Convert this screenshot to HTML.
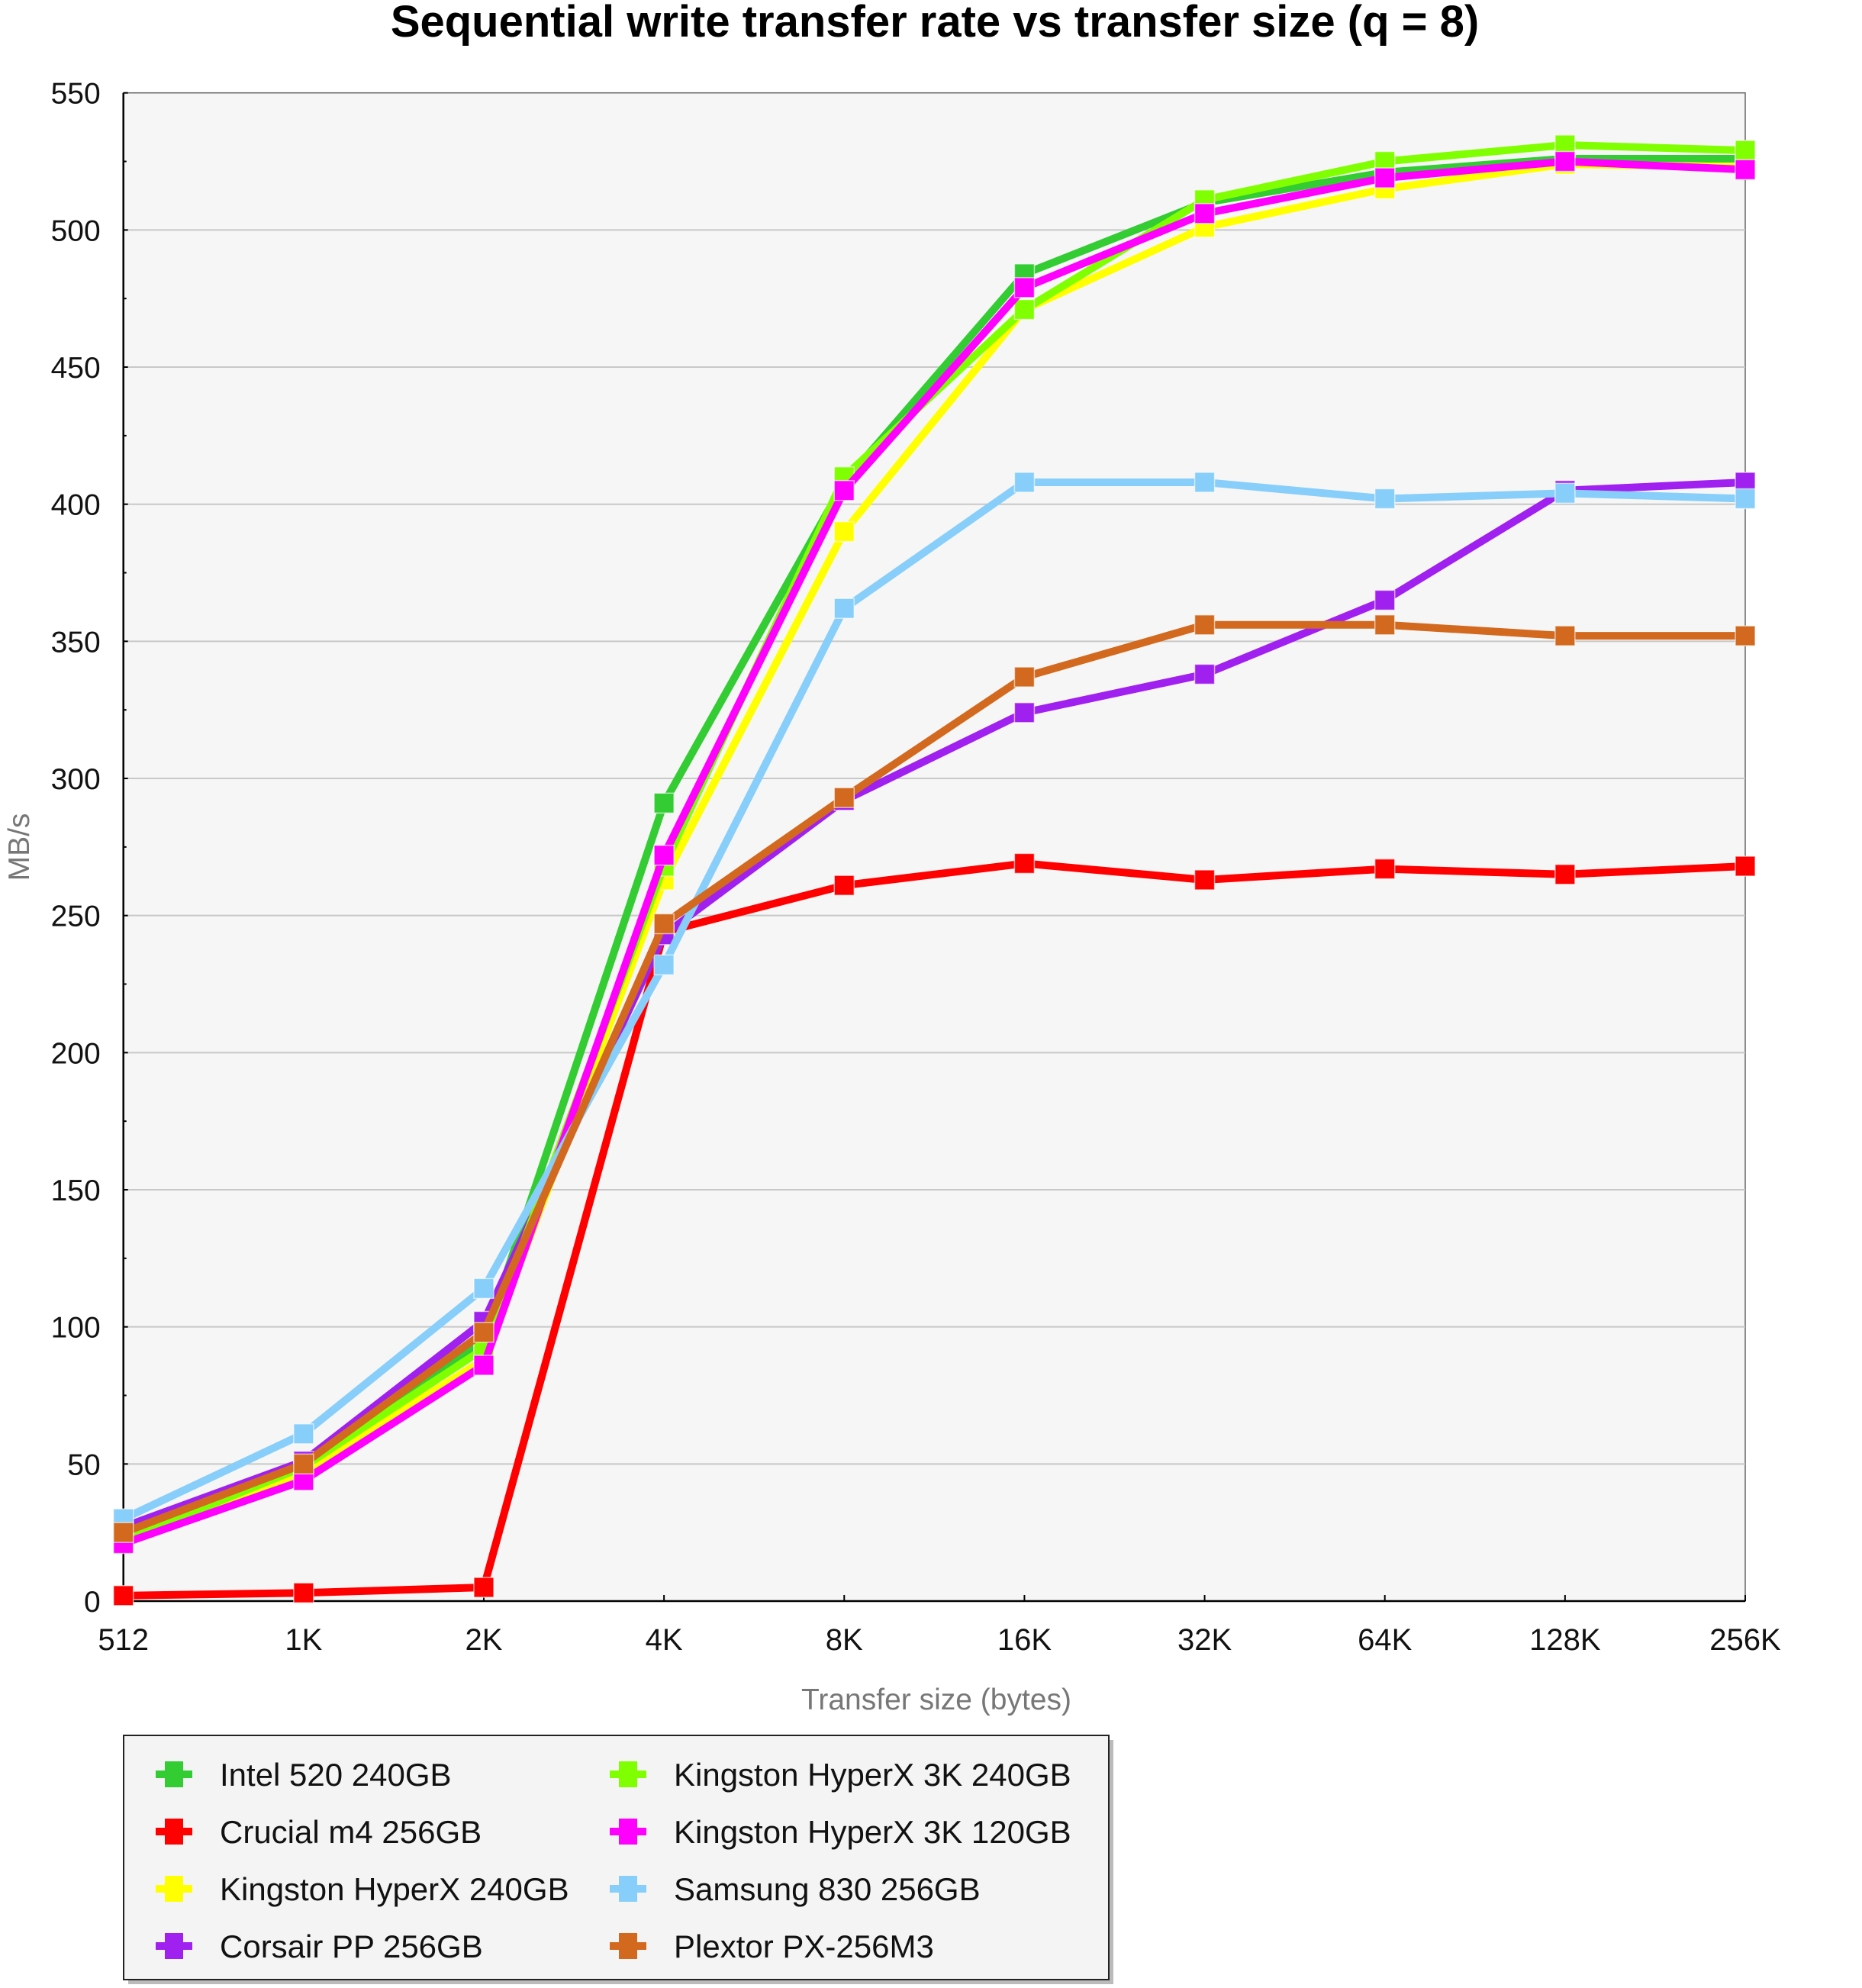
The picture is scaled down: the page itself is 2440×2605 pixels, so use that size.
<!DOCTYPE html>
<html><head><meta charset="utf-8"><style>
html,body{margin:0;padding:0;background:#fff}
svg text{font-family:"Liberation Sans",Arial,sans-serif}
</style></head><body>
<svg id="c" width="2440" height="2600" xmlns="http://www.w3.org/2000/svg"></svg>
<script>
const S=document.getElementById('c');
const L=161.7,R=2287,T=121.7,B=2098;
const py=v=>B-(v/550)*(B-T);
const px=i=>L+i*(R-L)/9;
let h='';
h+=`<text x="1225" y="48" font-size="58" font-weight="bold" text-anchor="middle" fill="#000">Sequential write transfer rate vs transfer size (q = 8)</text>`;
h+=`<rect x="${L}" y="${T}" width="${R-L}" height="${B-T}" fill="#f6f6f6" stroke="#666" stroke-width="1.5"/>`;
for(let v=0;v<=550;v+=25){const y=py(v);
 if(v%50==0){ if(v>0&&v<550)h+=`<line x1="${L}" x2="${R}" y1="${y}" y2="${y}" stroke="#c8c8c8" stroke-width="2"/>`;
  h+=`<text x="${L-30}" y="${y+14}" font-size="39" text-anchor="end" fill="#111">${v}</text>`;
  h+=`<line x1="${L}" x2="${L+6}" y1="${y}" y2="${y}" stroke="#000" stroke-width="2"/>`;}
 else h+=`<line x1="${L}" x2="${L+4}" y1="${y}" y2="${y}" stroke="#000" stroke-width="2"/>`;}
h+=`<line x1="${L}" x2="${L}" y1="${T}" y2="${B}" stroke="#000" stroke-width="2.5"/>`;
h+=`<line x1="${L}" x2="${R}" y1="${B}" y2="${B}" stroke="#000" stroke-width="2.5"/>`;
const xl=['512','1K','2K','4K','8K','16K','32K','64K','128K','256K'];
xl.forEach((t,i)=>{const x=px(i);h+=`<line x1="${x}" x2="${x}" y1="${B}" y2="${B-8}" stroke="#000" stroke-width="2"/>`;
 h+=`<text x="${x}" y="${B+64}" font-size="40" text-anchor="middle" fill="#111">${t}</text>`;});
h+=`<text x="1227" y="2240" font-size="39" text-anchor="middle" fill="#777">Transfer size (bytes)</text>`;
h+=`<text transform="translate(38,1110) rotate(-90)" font-size="39" text-anchor="middle" fill="#777">MB/s</text>`;
const D=[
['Intel 520 240GB','#33cc33',[22,50,95,291,408,484,510,521,526,526]],
['Crucial m4 256GB','#ff0000',[2,3,5,244,261,269,263,267,265,268]],
['Kingston HyperX 240GB','#ffff00',[23,47,88,263,390,471,501,515,524,523]],
['Corsair PP 256GB','#a020f0',[27,51,102,243,292,324,338,365,405,408]],
['Kingston HyperX 3K 240GB','#80ff00',[22,49,92,268,410,471,511,525,531,529]],
['Kingston HyperX 3K 120GB','#ff00ff',[21,44,86,272,405,479,506,519,525,522]],
['Samsung 830 256GB','#87cefa',[30,61,114,232,362,408,408,402,404,402]],
['Plextor PX-256M3','#d2691e',[25,50,98,247,293,337,356,356,352,352]]];
D.forEach(([n,c,v])=>{
 h+=`<polyline fill="none" stroke="${c}" stroke-width="10" stroke-linejoin="round" points="${v.map((d,i)=>px(i)+','+py(d)).join(' ')}"/>`;
 v.forEach((d,i)=>{h+=`<rect x="${px(i)-13}" y="${py(d)-13}" width="26" height="26" fill="${c}" stroke="#fff" stroke-opacity="0.6" stroke-width="1.5"/>`;});
});
h+=`<rect x="168" y="2280" width="1291" height="320" fill="#bbb"/>`;
h+=`<rect x="162" y="2274" width="1291" height="320" fill="#f4f4f4" stroke="#222" stroke-width="2"/>`;
D.forEach(([n,c],k)=>{const col=k<4?0:1,row=k%4;const mx=col?823:228,tx=col?883:288,y=2325+row*75;
 h+=`<rect x="${mx-24}" y="${y-5}" width="48" height="10" fill="${c}"/><rect x="${mx-12}" y="${y-17}" width="24" height="34" fill="${c}"/>`;
 h+=`<text x="${tx}" y="${y+15}" font-size="42" fill="#111">${n}</text>`;});
S.innerHTML=h;
</script>
</body></html>
